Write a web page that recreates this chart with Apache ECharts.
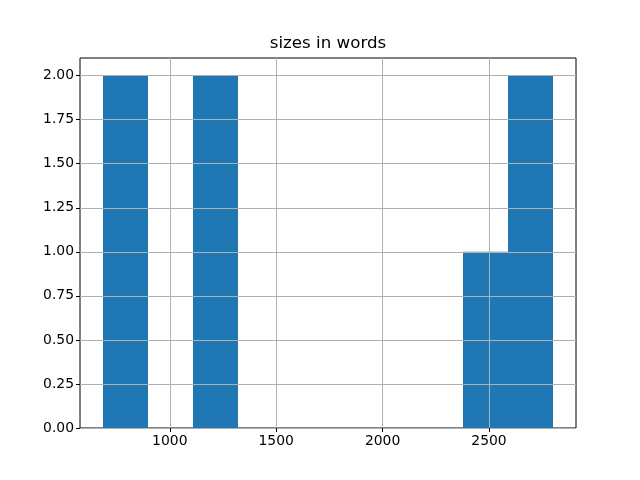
<!DOCTYPE html>
<html><head><meta charset="utf-8">
<script src="https://cdn.jsdelivr.net/npm/echarts@6/dist/echarts.min.js"></script>
<style>html,body{margin:0;padding:0;background:#fff}#c{width:640px;height:480px}</style>
</head><body><div id="c"></div>
<script>
const titleText = "sizes in words";
const binStarts = [684, 896, 1108, 1320, 1532, 1743, 1955, 2167, 2379, 2591];
const binEnds   = [896, 1108, 1320, 1532, 1743, 1955, 2167, 2379, 2591, 2803];
const counts    = [2, 0, 2, 0, 0, 0, 0, 0, 1, 2];
const xTicks = [1000, 1500, 2000, 2500];
const yTicks = [0, 0.25, 0.5, 0.75, 1.0, 1.25, 1.5, 1.75, 2.0];

const lo = binStarts[0], hi = binEnds[binEnds.length-1], span = hi - lo;
const xMin = lo - 0.05*span, xMax = hi + 0.05*span;
const yMax = Math.max(...counts) * 1.05;

const data = counts.map((c,i)=>[binStarts[i], binEnds[i], c]);
const chart = echarts.init(document.getElementById('c'), null, {renderer:'canvas'});
const font = 'DejaVu Sans';
chart.setOption({
  animation:false,
  title:{text:titleText,left:328,textAlign:'center',top:35,textStyle:{fontFamily:font,fontSize:16.67,fontWeight:'normal',color:'#000'},padding:0},
  grid:{left:80,right:64,top:58,bottom:52,show:true,borderColor:'#000',borderWidth:1,backgroundColor:'transparent'},
  xAxis:{type:'value',min:xMin,max:xMax,z:5,
    axisLine:{show:false},
    axisTick:{show:true,customValues:xTicks,length:4,lineStyle:{color:'#000'}},
    axisLabel:{customValues:xTicks,fontFamily:font,fontSize:13.9,color:'#000',margin:6,formatter:v=>String(v)},
    splitLine:{show:true,lineStyle:{color:'#b0b0b0',width:1}}},
  yAxis:{type:'value',min:0,max:yMax,z:5,
    axisLine:{show:false},
    axisTick:{show:true,customValues:yTicks,length:4,lineStyle:{color:'#000'}},
    axisLabel:{customValues:yTicks,fontFamily:font,fontSize:13.9,color:'#000',margin:6,formatter:v=>v.toFixed(2)},
    splitLine:{show:true,lineStyle:{color:'#b0b0b0',width:1}}},
  series:[{type:'custom',z:1,data:data,
    renderItem:(params,api)=>{
      const p0 = api.coord([api.value(0),0]);
      const p1 = api.coord([api.value(1),api.value(2)]);
      const x0 = Math.round(p0[0]), x1 = Math.round(p1[0]);
      return {type:'rect',shape:{x:x0,y:p1[1],width:x1-x0,height:p0[1]-p1[1]},style:{fill:'#1f77b4'}};
    }}]
});
</script></body></html>
